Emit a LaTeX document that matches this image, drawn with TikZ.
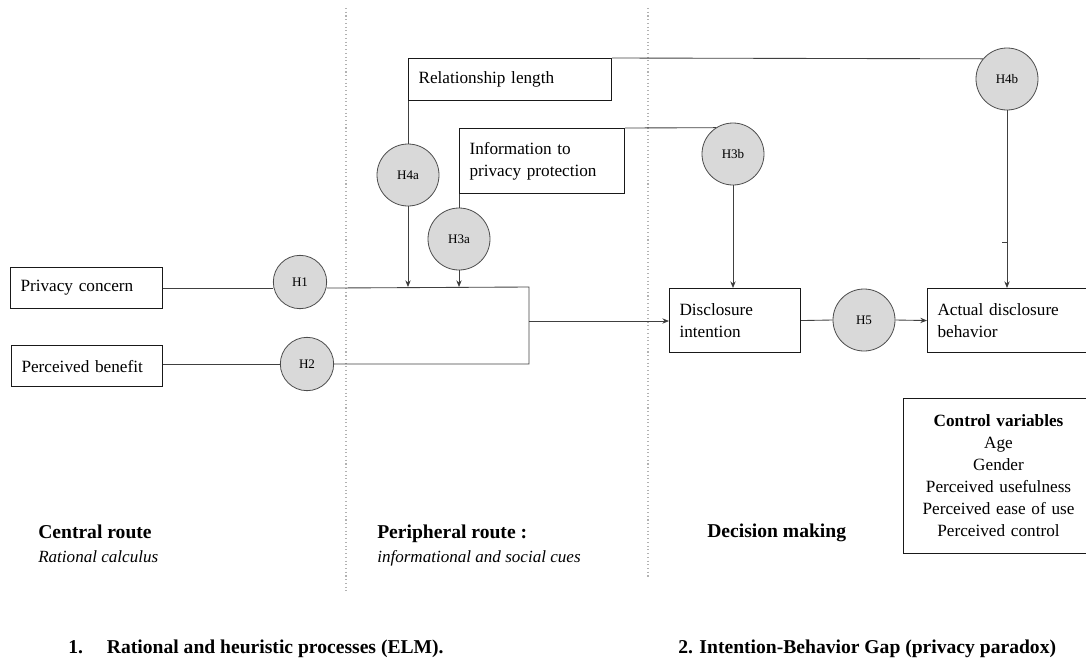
\documentclass[tikz,border=0pt]{standalone}
\usepackage{fontspec}
\setmainfont{Liberation Serif}
\usetikzlibrary{arrows.meta, calc}

\newcommand{\boxfont}{\fontsize{12.9pt}{16.5pt}\selectfont}
\newcommand{\hypfont}{\fontsize{9.8pt}{11pt}\selectfont}
\newcommand{\headfont}{\fontsize{14.7pt}{17pt}\selectfont\bfseries}
\newcommand{\cuefont}{\fontsize{12.8pt}{15pt}\selectfont\itshape}

\begin{document}
\begin{tikzpicture}[x=0.75pt, y=-0.75pt, -, >={Stealth[length=5pt,width=4pt]},
        construct/.style={draw=black!90, line width=0.8pt, font=\boxfont, align=left,
            anchor=north west, inner xsep=7.5pt, inner ysep=2pt},
        hyp/.style={circle, draw=black!70, fill=black!15, line width=0.6pt,
            minimum size=46.5pt, inner sep=0pt, font=\hypfont},
        smallhyp/.style={hyp, minimum size=40pt},
        link/.style={draw=black!75, line width=0.65pt},
        label/.style={inner sep=0pt, anchor=base west},
        sep/.style={draw=black!30, line width=0.8pt, dotted}]

        \useasboundingbox (0, 0) rectangle (1086, 658);
        \clip (0, 0) rectangle (1086, 658);

        \draw[sep] (346, 8) -- (346, 593);
        \draw[sep] (648, 8) -- (648, 578);

        \node[construct, text width=99pt, minimum height=30.75pt](pc) at (10, 267){Privacy concern};
        \node[construct, text width=98.25pt, minimum height=30.75pt](pb) at (11, 345){Perceived benefit};
        \node[construct, text width=137.25pt, minimum height=31.5pt](rel) at (408, 58){Relationship length};
        \node[construct, text width=108.75pt, minimum height=48.75pt](info) at (459, 128){Information to\\privacy protection};
        \node[construct, text width=83.25pt, minimum height=48pt](di) at (669, 288){Disclosure\\intention};
        \node[construct, text width=109.5pt, minimum height=48pt](adb) at (927, 288){Actual disclosure\\behavior};
        \node[construct, align=center, text width=127.5pt, minimum height=116.25pt](cv) at (903, 398)
            {\textbf{Control variables}\\Age\\Gender\\Perceived usefulness\\Perceived ease of use\\Perceived control};

        \node[smallhyp](h1) at (300, 282){H1};
        \node[smallhyp](h2) at (307, 364){H2};
        \node[hyp](h4a) at (408, 175){H4a};
        \node[hyp](h3a) at (459, 239){H3a};
        \node[hyp](h3b) at (733, 154){H3b};
        \node[hyp](h4b) at (1007, 79){H4b};
        \node[hyp](h5) at (864, 320){H5};

        \coordinate(j1) at (529, 287);
        \coordinate(j2) at (529, 364);
        \coordinate(j3) at (529, 321);
        \coordinate(tick) at (1007, 242);

        \path[link](pc.east) edge (pc.east -| h1.west);
        \draw[link](pc.east -| h1.east) -- (j1) -- (j2) -- (h2.east);
        \path[link](h2.west -| pb.east) edge (h2.west);
        \path[link](j3) edge[->] (j3 -| di.west);

        \path[link](rel.south west) edge (h4a.north);
        \path[link](h4a.south) edge[->] (h4a.south |- j1);
        \path[link](info.south west) edge (h3a.north);
        \path[link](h3a.south) edge[->] (h3a.south |- j1);

        \path[link](rel.north east) edge (h4b.140);
        \path[link](info.north east) edge (h3b.123);
        \path[link](h3b.south) edge[->] (h3b.south |- di.north);
        \path[link](h4b.south) edge[->] (h4b.south |- adb.north);
        \draw[link](tick) -- ++(-5, 0);

        \path[link](di.east) edge (h5.west);
        \path[link](h5.east) edge[->] (adb.west);

        \node[label, font=\headfont](central) at (38, 538){Central route};
        \node[label, font=\cuefont](calculus) at (38, 562){Rational calculus};
        \node[label, font=\headfont](peripheral) at (377, 538){Peripheral route :};
        \node[label, font=\cuefont](cues) at (377, 562){informational and social cues};
        \node[label, font=\headfont](decision) at (707, 537){Decision making};

        \node[label, font=\headfont](elm) at (68, 653){1.\hspace{18pt}Rational and heuristic processes (ELM).};
        \node[label, font=\headfont](gap) at (678, 653){2. Intention-Behavior Gap (privacy paradox)};

    \end{tikzpicture}
\end{document}
